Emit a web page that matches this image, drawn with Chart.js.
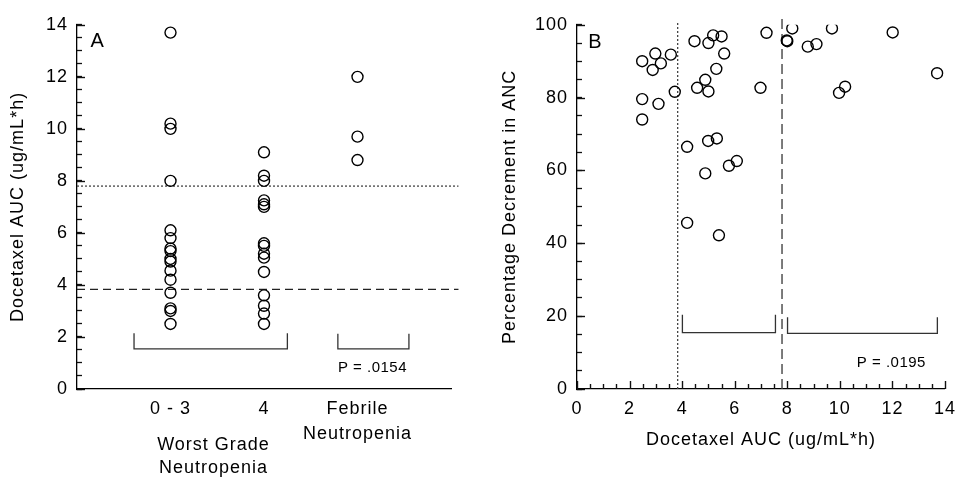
<!DOCTYPE html>
<html lang="en">
<head>
<meta charset="UTF-8">
<title>Docetaxel AUC and neutropenia</title>
<style>
  html, body { margin: 0; padding: 0; background: #fff; }
  .wrap { position: relative; width: 965px; height: 481px; }
  #chartA { position: absolute; left: 0; top: 0; }
  #chartB { position: absolute; left: 480px; top: 0; }
</style>
<script src="https://cdn.jsdelivr.net/npm/chart.js"></script>
</head>
<body>
<div class="wrap">
  <canvas id="chartA" width="480" height="481"></canvas>
  <canvas id="chartB" width="485" height="481"></canvas>
</div>
<script>
  // panel A: AUC by worst grade of neutropenia
  const groupPos = [1, 2, 3];
  const groupLabels = ['0 - 3', '4', ['Febrile', 'Neutropenia']];
  const aucGrade03 = [13.7, 10.2, 10.0, 8.0, 6.1, 5.8, 5.4, 5.3, 5.0, 4.9, 4.55, 4.2, 3.7, 3.1, 3.0, 2.5];
  const aucGrade4 = [9.1, 8.2, 8.0, 7.25, 7.1, 7.0, 5.6, 5.5, 5.2, 5.05, 4.5, 3.6, 3.2, 2.9, 2.5];
  const aucFebrile = [12.0, 9.7, 8.8];

  // panel B: percentage decrement in ANC vs AUC
  const aucB = [2.48, 2.98, 2.88, 3.19, 3.57, 2.48, 3.10, 2.48, 3.72, 4.47, 5.18, 5.50, 5.00, 5.60, 5.30, 4.88,
                4.57, 5.00, 7.21, 6.98, 4.19, 4.99, 5.32, 5.78, 6.08, 4.88, 4.19, 5.40, 8.19, 7.98, 8.00, 8.78,
                9.11, 9.70, 12.01, 13.70, 9.97, 10.20];
  const ancB = [90.0, 92.1, 87.6, 89.4, 91.8, 79.6, 78.3, 74.0, 81.6, 95.5, 97.1, 96.8, 95.0, 92.1, 87.9, 84.9,
                82.7, 81.7, 97.8, 82.7, 66.5, 68.1, 68.8, 61.3, 62.6, 59.2, 45.6, 42.2, 99.0, 95.7, 95.5, 94.0,
                94.7, 99.0, 97.9, 86.7, 81.3, 83.0];

  // AUC cut-offs (dashed / dotted reference lines)
  const cutLow = 3.83;
  const cutHigh = 7.8;

  // comparison brackets: [start, end, top, bottom]
  const bracketsA = [[0.61, 2.25, 2.14, 1.54], [2.79, 3.55, 2.12, 1.54]];
  const bracketsB = [[4.01, 7.55, 20.4, 15.5], [8.01, 13.71, 19.7, 15.3]];

  // tick mark positions (major ones get a label)
  const yTicksA = [0, 0.5, 1, 1.5, 2, 2.5, 3, 3.5, 4, 4.5, 5, 5.5, 6, 6.5, 7, 7.5, 8, 8.5, 9, 9.5, 10, 10.5, 11, 11.5, 12, 12.5, 13, 13.5, 14];
  const yTicksB = [0, 5, 10, 15, 20, 25, 30, 35, 40, 45, 50, 55, 60, 65, 70, 75, 80, 85, 90, 95, 100];
  const xTicksB = yTicksA;

  const ink = '#000';
  const family = "'Liberation Sans', Arial, Helvetica, sans-serif";
  const font18 = { family: family, size: 18 };

  const circleStyle = {
    pointRadius: 5.5,
    pointHoverRadius: 5.5,
    pointBorderWidth: 1.4,
    pointBorderColor: ink,
    pointBackgroundColor: 'rgba(255,255,255,0)'
  };

  function refLine(points, dash, color, width) {
    return {
      type: 'line', data: points, borderColor: color, borderWidth: width,
      borderDash: dash, pointRadius: 0, fill: false, clip: false, tension: 0
    };
  }

  function bracketLines(list) {
    return list.map(b => refLine([
      { x: b[0], y: b[2] }, { x: b[0], y: b[3] }, { x: b[1], y: b[3] }, { x: b[1], y: b[2] }
    ], [], '#333', 1.3));
  }

  // letter spacing so the text is as wide as in the figure
  const spacing = {
    id: 'spacing',
    beforeUpdate(chart) { chart.ctx.letterSpacing = '1px'; },
    beforeDraw(chart) { chart.ctx.letterSpacing = '1px'; }
  };

  // longer inward marks at major values, short marks on the x axis
  function tickMarks(yVals, yMajor, xVals, xMajor) {
    return {
      id: 'tickMarks',
      afterDraw(chart) {
        const ctx = chart.ctx;
        const area = chart.chartArea;
        const sy = chart.scales.y;
        const sx = chart.scales.x;
        ctx.save();
        ctx.setLineDash([]);
        ctx.strokeStyle = '#111';
        ctx.lineWidth = 1.4;
        yVals.forEach(v => {
          if (v % yMajor !== 0) return;
          const p = Math.round(sy.getPixelForValue(v)) + 0.5;
          ctx.beginPath();
          ctx.moveTo(area.left, p);
          ctx.lineTo(area.left + 8, p);
          ctx.stroke();
        });
        xVals.forEach(v => {
          const len = (v % xMajor === 0) ? 8 : 5;
          const p = Math.round(sx.getPixelForValue(v)) + 0.5;
          ctx.beginPath();
          ctx.moveTo(p, area.bottom);
          ctx.lineTo(p, area.bottom - len);
          ctx.stroke();
        });
        ctx.restore();
      }
    };
  }

  // free text placed with the chart's scales
  function notes(items) {
    return {
      id: 'notes',
      afterDraw(chart) {
        const ctx = chart.ctx;
        ctx.save();
        ctx.fillStyle = ink;
        items.forEach(n => {
          ctx.letterSpacing = (n.spacing || 1) + 'px';
          ctx.font = n.size + 'px ' + family;
          ctx.textAlign = 'center';
          ctx.textBaseline = n.baseline || 'middle';
          const x = chart.scales.x.getPixelForValue(n.x);
          const y = chart.scales.y.getPixelForValue(n.y);
          ctx.fillText(n.text, x, y + (n.dy || 0));
        });
        ctx.restore();
      }
    };
  }

  function commonOptions() {
    return {
      responsive: false,
      animation: false,
      events: [],
      plugins: { legend: { display: false }, tooltip: { enabled: false } }
    };
  }

  const noGrid = { display: false, drawTicks: false };
  // y axes: Chart.js draws short inward ticks (negative tick length)
  const inwardTicks = {
    display: true, drawOnChartArea: false, drawTicks: true,
    tickLength: -5, tickColor: '#111', tickWidth: 1.3, color: '#111'
  };

  // ---------- panel A ----------
  const optsA = commonOptions();
  optsA.layout = { padding: { top: 17, right: 29, left: 0, bottom: 0 } };
  optsA.scales = {
    x: {
      type: 'linear', min: 0, max: 4,
      grid: noGrid,
      border: { color: ink, width: 1.3 },
      afterBuildTicks: s => { s.ticks = groupPos.map(v => ({ value: v })); },
      afterFit: s => { s.height = 92; },
      ticks: {
        autoSkip: false, maxRotation: 0, padding: 7.5, color: ink,
        font: { family: family, size: 18, lineHeight: 1.4 },
        callback: v => groupLabels[groupPos.indexOf(v)]
      }
    },
    y: {
      min: 0, max: 14,
      grid: inwardTicks,
      border: { color: ink, width: 1.3 },
      afterBuildTicks: s => { s.ticks = yTicksA.map(v => ({ value: v })); },
      afterFit: s => { s.width = 77; },
      ticks: {
        autoSkip: false, padding: 14, color: ink, font: font18,
        callback: v => (v % 2 === 0 ? String(v) : '')
      },
      title: { display: true, text: 'Docetaxel AUC (ug/mL*h)', color: ink, font: font18, padding: 7 }
    }
  };

  new Chart(document.getElementById('chartA'), {
    type: 'scatter',
    data: {
      datasets: [
        Object.assign({ data: aucGrade03.map(v => ({ x: groupPos[0], y: v })) }, circleStyle),
        Object.assign({ data: aucGrade4.map(v => ({ x: groupPos[1], y: v })) }, circleStyle),
        Object.assign({ data: aucFebrile.map(v => ({ x: groupPos[2], y: v })) }, circleStyle),
        refLine([{ x: 0, y: cutLow }, { x: 4.08, y: cutLow }], [8, 5], '#222', 1.3),
        refLine([{ x: 0, y: cutHigh }, { x: 4.08, y: cutHigh }], [2, 2], '#444', 1.3)
      ].concat(bracketLines(bracketsA))
    },
    options: optsA,
    plugins: [
      spacing,
      tickMarks(yTicksA, 2, [], 1),
      notes([
        { text: 'A', x: 0.22, y: 13.36, size: 20 },
        { text: 'P = .0154', x: 3.16, y: 0.8, size: 15, spacing: 0.5 },
        { text: 'Worst Grade', x: 1.46, y: 0, dy: 61, size: 18, baseline: 'alphabetic' },
        { text: 'Neutropenia', x: 1.46, y: 0, dy: 84, size: 18, baseline: 'alphabetic' }
      ])
    ]
  });

  // ---------- panel B ----------
  const optsB = commonOptions();
  optsB.layout = { padding: { top: 17, right: 15, left: 0, bottom: 0 } };
  optsB.scales = {
    x: {
      type: 'linear', min: 0, max: 14,
      grid: noGrid,
      border: { color: ink, width: 1.3 },
      afterFit: s => { s.height = 92; },
      ticks: { stepSize: 2, maxRotation: 0, padding: 9, color: ink, font: font18 },
      title: { display: true, text: 'Docetaxel AUC (ug/mL*h)', color: ink, font: font18, padding: 30 }
    },
    y: {
      min: 0, max: 100,
      grid: inwardTicks,
      border: { color: ink, width: 1.3 },
      afterBuildTicks: s => { s.ticks = yTicksB.map(v => ({ value: v })); },
      afterFit: s => { s.width = 97; },
      ticks: {
        autoSkip: false, padding: 14, color: ink, font: font18,
        callback: v => (v % 20 === 0 ? String(v) : '')
      },
      title: { display: true, text: 'Percentage Decrement in ANC', color: ink, font: font18, padding: 19 }
    }
  };

  new Chart(document.getElementById('chartB'), {
    type: 'scatter',
    data: {
      datasets: [
        Object.assign({ data: aucB.map((v, i) => ({ x: v, y: ancB[i] })) }, circleStyle),
        refLine([{ x: cutLow, y: 0 }, { x: cutLow, y: 100.6 }], [2, 2], '#444', 1.3),
        refLine([{ x: cutHigh, y: 0 }, { x: cutHigh, y: 101.9 }], [10, 5], '#444', 1.4)
      ].concat(bracketLines(bracketsB))
    },
    options: optsB,
    plugins: [
      spacing,
      tickMarks(yTicksB, 20, xTicksB, 2),
      notes([
        { text: 'B', x: 0.7, y: 95.1, size: 20 },
        { text: 'P = .0195', x: 11.96, y: 7.1, size: 15, spacing: 0.5 }
      ])
    ]
  });
</script>
</body>
</html>
